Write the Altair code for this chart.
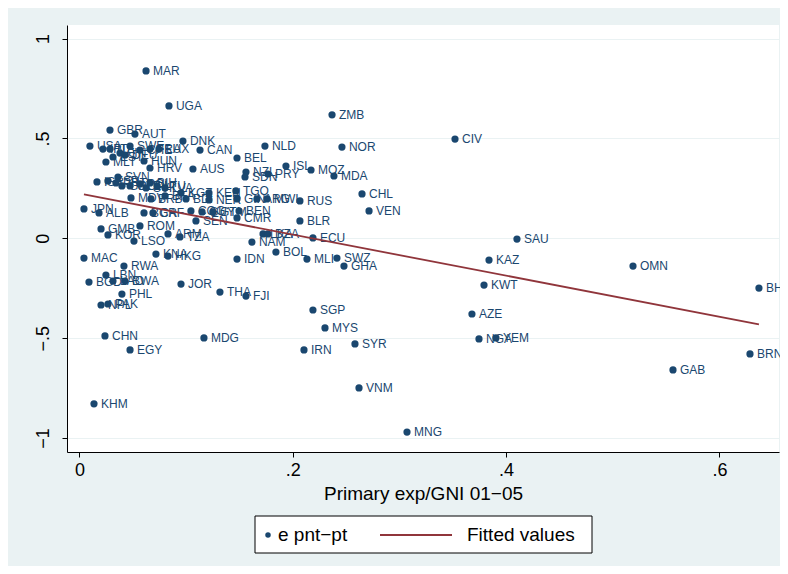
import altair as alt
import pandas as pd

codes = ["MAR", "UGA", "ZMB", "GBR", "AUT", "CIV", "DNK", "USA", "NLD", "NOR",
         "CAN", "SWE", "LUX", "FRA", "CHE", "IRL", "ITA", "FIN", "DEU", "BEL",
         "MLT", "EST", "HUN", "HRV", "AUS", "ISL", "NZL", "SDN", "PRY", "MOZ",
         "MDA", "SVN", "ISR", "ESP", "PRT", "GRC", "CZE", "POL", "BIH", "SVK",
         "LTU", "LVA", "MDV", "BRB", "BFA", "KGZ", "KEN", "NER", "BDI", "TGO",
         "GIN", "ARG", "MWI", "RUS", "CHL", "VEN", "JPN", "ALB", "BGR", "CAF",
         "COG", "GUY", "GTM", "BEN", "SEN", "CMR", "BLR", "ROM", "GMB", "KOR",
         "LSO", "ARM", "TZA", "LKA", "DZA", "ECU", "NAM", "SAU", "BOL", "MLI",
         "SWZ", "GHA", "IDN", "KAZ", "OMN", "MAC", "KNA", "HKG", "RWA", "LBN",
         "BGD", "LAO", "BWA", "JOR", "KWT", "BHR", "PHL", "THA", "FJI", "NPL",
         "PAK", "SGP", "AZE", "MYS", "CHN", "MDG", "NGA", "YEM", "SYR", "EGY",
         "IRN", "BRN", "GAB", "VNM", "KHM", "MNG"]

gni = [0.0624, 0.0839, 0.2368, 0.0286, 0.0520, 0.3521, 0.0970, 0.0098, 0.1739, 0.2461,
       0.1130, 0.0474, 0.0745, 0.0661, 0.0567, 0.0220, 0.0286, 0.0380, 0.0427, 0.1477,
       0.0248, 0.0314, 0.0605, 0.0661, 0.1064, 0.1936, 0.1561, 0.1552, 0.1767, 0.2171,
       0.2386, 0.0361, 0.0164, 0.0267, 0.0342, 0.0398, 0.0474, 0.0567, 0.0661, 0.0624,
       0.0727, 0.0802, 0.0483, 0.0670, 0.0802, 0.0952, 0.1214, 0.1214, 0.0999, 0.1467,
       0.1477, 0.1664, 0.1758, 0.2067, 0.2649, 0.2715, 0.0042, 0.0183, 0.0605, 0.0689,
       0.1045, 0.1149, 0.1252, 0.1496, 0.1092, 0.1477, 0.2067, 0.0567, 0.0202, 0.0267,
       0.0511, 0.0830, 0.0942, 0.1721, 0.1767, 0.2189, 0.1617, 0.4102, 0.1842, 0.2133,
       0.2414, 0.2480, 0.1477, 0.3840, 0.5190, 0.0042, 0.0717, 0.0830, 0.0417, 0.0248,
       0.0089, 0.0314, 0.0427, 0.0952, 0.3793, 0.6371, 0.0398, 0.1317, 0.1561, 0.0202,
       0.0267, 0.2189, 0.3680, 0.2302, 0.0239, 0.1167, 0.3746, 0.3905, 0.2583, 0.0474,
       0.2105, 0.6287, 0.5565, 0.2621, 0.0136, 0.3071]

resid = [0.838, 0.663, 0.618, 0.542, 0.522, 0.497, 0.487, 0.462, 0.462, 0.457,
         0.442, 0.462, 0.447, 0.447, 0.442, 0.447, 0.447, 0.427, 0.417, 0.402,
         0.382, 0.407, 0.387, 0.352, 0.347, 0.362, 0.332, 0.307, 0.322, 0.342,
         0.312, 0.307, 0.282, 0.287, 0.277, 0.262, 0.262, 0.272, 0.277, 0.252,
         0.262, 0.252, 0.202, 0.197, 0.212, 0.227, 0.227, 0.192, 0.197, 0.237,
         0.197, 0.197, 0.197, 0.187, 0.222, 0.137, 0.147, 0.127, 0.127, 0.127,
         0.137, 0.132, 0.132, 0.137, 0.087, 0.102, 0.087, 0.062, 0.047, 0.017,
         -0.014, 0.022, 0.007, 0.022, 0.022, 0.002, -0.019, -0.004, -0.069, -0.104,
         -0.099, -0.139, -0.104, -0.109, -0.139, -0.099, -0.079, -0.089, -0.139, -0.184,
         -0.219, -0.214, -0.214, -0.229, -0.234, -0.249, -0.279, -0.269, -0.289, -0.334,
         -0.329, -0.359, -0.379, -0.449, -0.489, -0.499, -0.504, -0.499, -0.529, -0.559,
         -0.559, -0.579, -0.659, -0.749, -0.829, -0.970]

fit_x = [0.0042, 0.6371]
fit_y = [0.220, -0.431]

x_ticks = [0, 0.2, 0.4, 0.6]
y_ticks = [-1, -0.5, 0, 0.5, 1]
legend_labels = ["e pnt\u2212pt", "Fitted values"]
x_title = "Primary exp/GNI 01\u221205"

NAVY = "#1a476f"
MAROON = "#90353b"
BG = "#eaf2f3"
FONT = "Liberation Sans"

W, H = 712, 427

pts = pd.DataFrame({"code": codes, "x": gni, "y": resid})
fit = pd.DataFrame({"x": fit_x, "y": fit_y})

label_expr = ("datum.value == 0 ? '0' : (datum.value < 0 ? '\u2212' : '') + "
              "replace(format(abs(datum.value), '~g'), '0.', '.')")

xscale = alt.Scale(domain=[-0.0117, 0.6559], nice=False, zero=False)
yscale = alt.Scale(domain=[-1.070, 1.068], nice=False, zero=False)

xaxis = alt.Axis(values=x_ticks, labelExpr=label_expr, title=x_title, grid=False,
                 domainColor="black", tickColor="black", tickSize=5, tickWidth=1,
                 labelFontSize=18, titleFontSize=19, labelFont=FONT, titleFont=FONT,
                 labelColor="black", titleColor="black", titleFontWeight="normal",
                 labelPadding=4, titlePadding=5)
yaxis = alt.Axis(values=y_ticks, labelExpr=label_expr, title=None, grid=True,
                 gridColor=BG, gridWidth=1.2,
                 domainColor="black", tickColor="black", tickSize=5, tickWidth=1,
                 labelFontSize=18, labelFont=FONT, labelColor="black",
                 labelAngle=270, labelAlign="center", labelBaseline="alphabetic",
                 labelPadding=14)

base = alt.Chart(pts).encode(
    x=alt.X("x:Q", scale=xscale, axis=xaxis),
    y=alt.Y("y:Q", scale=yscale, axis=yaxis),
)
dots = base.mark_circle(size=52, color=NAVY, opacity=1)
labels = base.mark_text(align="left", baseline="middle", dx=7, fontSize=12,
                        font=FONT, color=NAVY).encode(text="code:N")

line = alt.Chart(fit).mark_line(color=MAROON, strokeWidth=1.8).encode(
    x=alt.X("x:Q", scale=xscale), y=alt.Y("y:Q", scale=yscale))

one = pd.DataFrame({"a": [0]})
lg_box = alt.Chart(one).mark_rect(fill="white", stroke="black", strokeWidth=1).encode(
    x=alt.value(188), x2=alt.value(525), y=alt.value(491), y2=alt.value(528))
lg_dot = alt.Chart(one).mark_circle(size=30, color=NAVY, opacity=1).encode(
    x=alt.value(201), y=alt.value(510))
lg_t1 = alt.Chart(one).mark_text(align="left", baseline="middle", fontSize=19,
                                 font=FONT, color="black", text=legend_labels[0]).encode(
    x=alt.value(211), y=alt.value(510))
lg_line = alt.Chart(one).mark_rule(color=MAROON, strokeWidth=1.8).encode(
    x=alt.value(313), x2=alt.value(385), y=alt.value(510))
lg_t2 = alt.Chart(one).mark_text(align="left", baseline="middle", fontSize=19,
                                 font=FONT, color="black", text=legend_labels[1]).encode(
    x=alt.value(400), y=alt.value(510))

chart = alt.layer(dots, labels, line, lg_box, lg_dot, lg_t1, lg_line, lg_t2).properties(
    width=W, height=H,
    autosize=alt.AutoSizeParams(type="none"),
    padding={"left": 59, "top": 17, "right": 1, "bottom": 114},
    background=BG,
).configure_view(stroke=None, fill="white")

chart.save("out.html", embed_options={"renderer": "svg", "actions": False})
